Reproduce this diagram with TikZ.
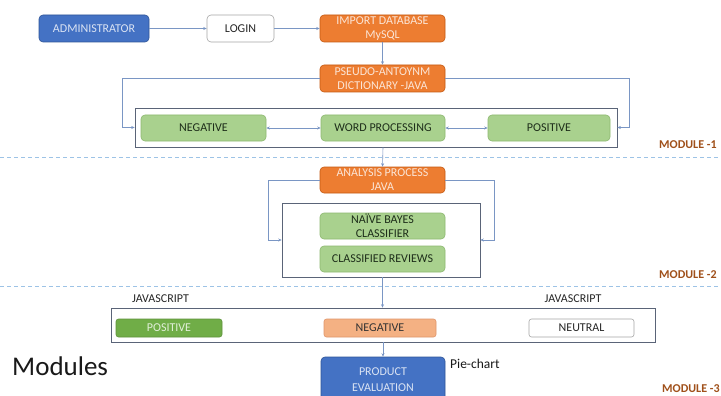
\documentclass[tikz,border=0pt]{standalone}
\usepackage{fontspec}
\setmainfont{Carlito}
\usetikzlibrary{arrows.meta}
\definecolor{orng}{HTML}{ED7D31}
\definecolor{orngd}{HTML}{C55A11}
\definecolor{orngt}{HTML}{FBE5D6}
\definecolor{blu}{HTML}{4472C4}
\definecolor{blud}{HTML}{2F5597}
\definecolor{blut}{HTML}{DAE3F3}
\definecolor{grn}{HTML}{A9D18E}
\definecolor{grnd}{HTML}{8DB870}
\definecolor{grnt}{HTML}{1E2E1A}
\definecolor{grn2}{HTML}{70AD47}
\definecolor{grn2t}{HTML}{E2F0D9}
\definecolor{salm}{HTML}{F4B183}
\definecolor{salmd}{HTML}{E0956A}
\definecolor{lnc}{HTML}{7A96C4}
\definecolor{framec}{HTML}{5A6478}
\definecolor{dashc}{HTML}{9DC3E6}
\definecolor{modc}{HTML}{A0501A}
\begin{document}
\begin{tikzpicture}[x=1pt,y=-1pt,
  boxfont/.style={font=\fontsize{12}{14}\selectfont},
  basebox/.style={boxfont, rounded corners=4pt, inner sep=0pt, align=center, line width=0.6pt},
  bluebox/.style={basebox, fill=blu, draw=blud, text=blut},
  orangebox/.style={basebox, fill=orng, draw=orngd, text=orngt},
  whitebox/.style={basebox, fill=white, draw=gray!70, text=black!85},
  greenbox/.style={basebox, fill=grn, draw=grnd, text=grnt},
  greenboxdark/.style={basebox, fill=grn2, draw=grn2!85!black, text=grn2t},
  salmbox/.style={basebox, fill=salm, draw=salmd, text=black!80},
  frame/.style={draw=framec, line width=0.6pt, inner sep=0pt},
  conn/.style={draw=lnc, line width=0.6pt, -{Stealth[length=3.5pt,width=3pt]}},
  dconn/.style={draw=lnc, line width=0.6pt, {Stealth[length=3.5pt,width=3pt]}-{Stealth[length=3.5pt,width=3pt]}},
  sep/.style={draw=dashc, line width=0.9pt, dash pattern=on 4pt off 3pt},
  modlabel/.style={font=\fontsize{12}{14}\selectfont\bfseries, text=modc, anchor=west, inner sep=0pt},
  plainlabel/.style={font=\fontsize{12}{14}\selectfont, text=black!85, inner sep=0pt}
]
\useasboundingbox (0,0) rectangle (721,396);
\fill[white] (0,0) rectangle (721,396);

% separators
\coordinate (s1l) at (0,157); \coordinate (s1r) at (721,157);
\coordinate (s2l) at (0,286); \coordinate (s2r) at (721,286);
\draw[sep] (s1l) -- (s1r);
\draw[sep] (s2l) -- (s2r);

% top row
\node[bluebox, minimum width=110pt, minimum height=27pt] (admin) at (94,28.5) {ADMINISTRATOR};
\node[whitebox, minimum width=67pt, minimum height=27pt] (login) at (240.5,28.5) {LOGIN};
\node[orangebox, minimum width=125pt, minimum height=27pt] (import) at (382.5,28.5) {IMPORT DATABASE\\MySQL};
\node[orangebox, minimum width=125pt, minimum height=27pt] (pseudo) at (382.5,78.5) {PSEUDO-ANTOYNM\\DICTIONARY -JAVA};

% module 1
\node[frame, minimum width=482pt, minimum height=39pt] (m1) at (376,127.5) {};
\node[greenbox, minimum width=125pt, minimum height=26pt] (neg1) at (203.5,128) {NEGATIVE};
\node[greenbox, minimum width=124pt, minimum height=26pt] (word) at (383,128) {WORD PROCESSING};
\node[greenbox, minimum width=122pt, minimum height=26pt] (pos1) at (549,128) {POSITIVE};
\coordinate (l1) at (122,0);
\coordinate (r1) at (629,0);

% module 2
\node[orangebox, minimum width=125pt, minimum height=26pt] (analysis) at (382.5,180) {ANALYSIS PROCESS\\JAVA};
\node[frame, minimum width=198pt, minimum height=74pt] (m2) at (381,240) {};
\node[greenbox, minimum width=125pt, minimum height=26pt] (naive) at (382.5,226) {NAÏVE BAYES\\CLASSIFIER};
\node[greenbox, minimum width=125pt, minimum height=26pt] (classified) at (382.5,259) {CLASSIFIED REVIEWS};
\coordinate (l2) at (268,0);
\coordinate (r2) at (494,0);

% module 3
\node[plainlabel] (js1) at (160.5,299) {JAVASCRIPT};
\node[plainlabel] (js2) at (573,299) {JAVASCRIPT};
\node[frame, minimum width=544pt, minimum height=34pt] (m3) at (383,325) {};
\node[greenboxdark, rounded corners=2.5pt, minimum width=106pt, minimum height=18pt] (pos3) at (169,328) {POSITIVE};
\node[salmbox, rounded corners=2.5pt, minimum width=112pt, minimum height=18pt] (neg3) at (380,328) {NEGATIVE};
\node[whitebox, rounded corners=2.5pt, minimum width=105pt, minimum height=18pt] (neu3) at (581.5,328) {NEUTRAL};
\node[bluebox, font=\fontsize{12}{16}\selectfont, minimum width=124pt, minimum height=46pt] (product) at (383,380) {PRODUCT\\EVALUATION};
\node[font=\fontsize{13.5}{16}\selectfont, text=black!90, anchor=west, inner sep=0pt] (pie) at (450,364) {Pie-chart};
\node[font=\fontsize{27}{30}\selectfont, text=black!90, anchor=base west, inner sep=0pt] (modules) at (12,375) {Modules};

% module labels
\node[modlabel] (mod1) at (659,145) {MODULE -1};
\node[modlabel] (mod2) at (659,275) {MODULE -2};
\node[modlabel] (mod3) at (662,389) {MODULE -3};

% connectors
\draw[conn] (admin) -- (login);
\draw[conn] (login) -- (import);
\draw[conn] (import) -- (pseudo);
\draw[conn] (pseudo.west) -- (pseudo.west -| l1) |- (m1.west);
\draw[conn] (pseudo.east) -- (pseudo.east -| r1) |- (m1.east);
\draw[dconn] (neg1) -- (word);
\draw[dconn] (word) -- (pos1);
\draw[conn] (word |- m1.south) -- (analysis.north);
\draw[conn] (analysis.west) -- (analysis.west -| l2) |- (m2.west);
\draw[conn] (analysis.east) -- (analysis.east -| r2) |- (m2.east);
\draw[conn] (classified |- m2.south) -- (classified |- m3.north);
\draw[conn] (product |- m3.south) -- (product.north);
\end{tikzpicture}
\end{document}
